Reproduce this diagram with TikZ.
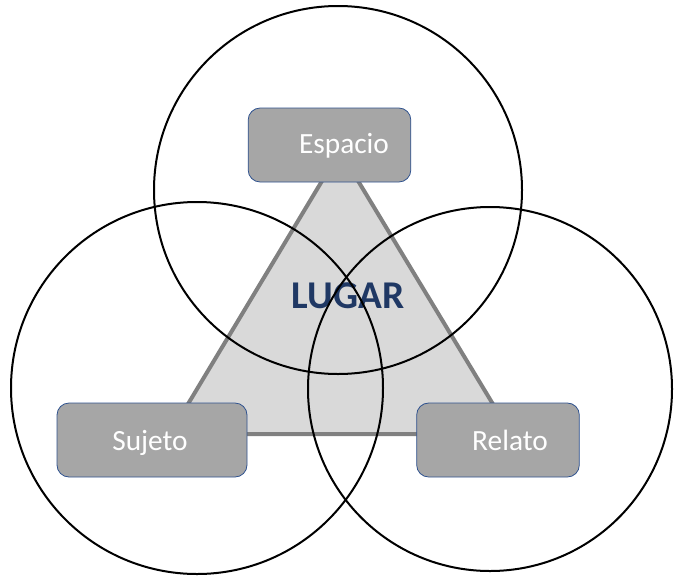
\documentclass[tikz,border=0pt]{standalone}
\usepackage{fontspec}
\setmainfont{Carlito}
\usepackage{tikz}
\usetikzlibrary{positioning}

\definecolor{boxfill}{RGB}{166,166,166}
\definecolor{boxline}{RGB}{47,82,143}
\definecolor{trifill}{RGB}{217,217,217}
\definecolor{triline}{RGB}{128,128,128}
\definecolor{lugarblue}{RGB}{31,56,100}

\tikzset{
  conceptbox/.style={draw=boxline, line width=0.6pt, fill=boxfill, rounded corners=9pt,
    minimum width=122pt, minimum height=55.5pt, inner sep=0pt},
  boxlabel/.style={text=white, inner sep=0pt, anchor=base, font=\fontsize{22}{26}\selectfont},
  ring/.style={draw=black, line width=1.5pt},
}

\begin{document}
\begin{tikzpicture}[x=0.75pt,y=0.75pt,yscale=-1,xscale=1]
            \useasboundingbox (0,0) rectangle (674,575);

            %Shape: Triangle
            \coordinate (apex) at (340,151);
            \coordinate (left) at (170,434);
            \coordinate (right) at (511,434);
            \draw [draw=triline, fill=trifill, line width=3pt, line join=round] (apex) -- (right) -- (left) -- cycle ;

            % Boxes
            \node [conceptbox] (espacio) at (329.5,145) {};
            \node [conceptbox, minimum width=142.5pt] (sujeto) at (152,440) {};
            \node [conceptbox] (relato) at (498,440) {};

            % Text Nodes
            \node [boxlabel] (espaciotxt) at (344,153) {Espacio};
            \node [boxlabel] (sujetotxt) at (150,450) {Sujeto};
            \node [boxlabel] (relatotxt) at (510,450) {Relato};
            \node [font=\fontsize{29.5}{34}\selectfont\bfseries, text=lugarblue, inner sep=0pt, anchor=base] (lugar) at (348,308) {LUGAR};

            %Shape: Circles
            \draw [ring] (338,190) circle [radius=184] ;
            \draw [ring] (197,388) circle [radius=186] ;
            \draw [ring] (490,389) circle [radius=182] ;

\end{tikzpicture}
\end{document}
